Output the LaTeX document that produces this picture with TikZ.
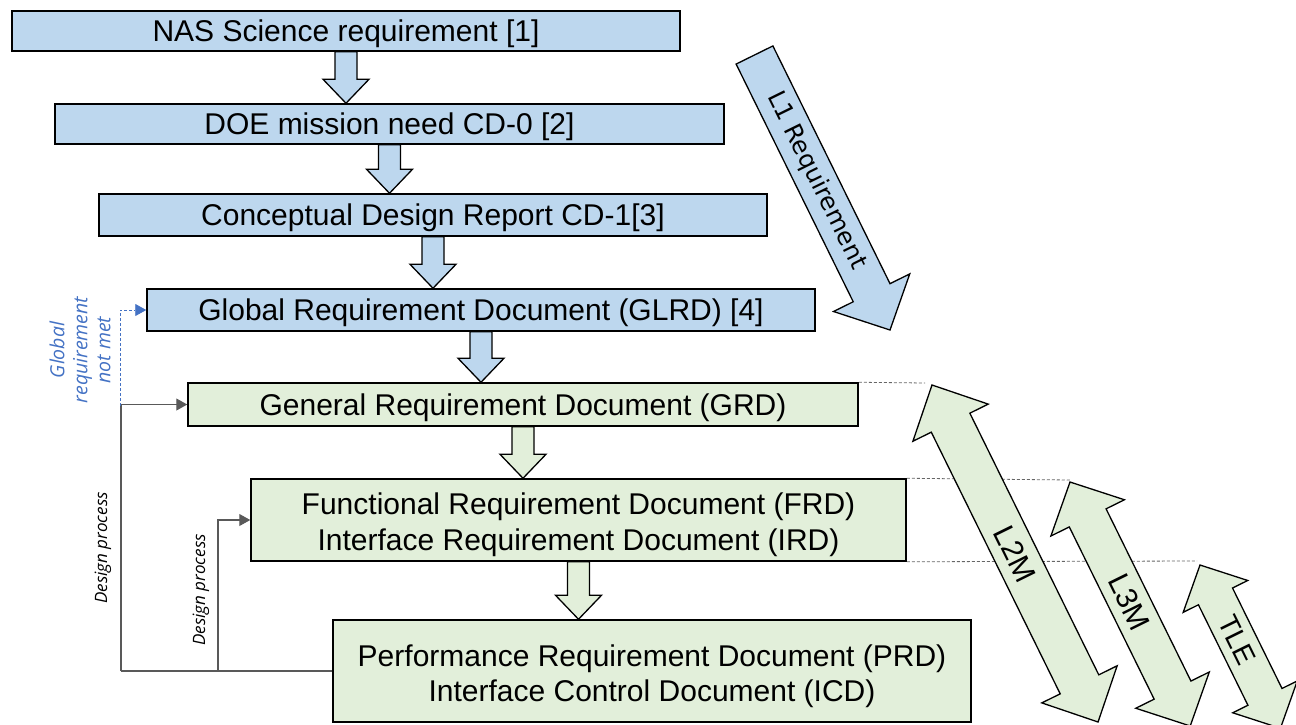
\documentclass[tikz,border=0pt]{standalone}
\usepackage{fontspec}
\setmainfont{Liberation Sans}
\newfontfamily\dvs{DejaVu Sans}
\newfontfamily\opens{Open Sans}
\usetikzlibrary{calc,arrows.meta}
\definecolor{bfill}{RGB}{189,215,238}
\definecolor{gfill}{RGB}{226,239,218}
\definecolor{lblue}{RGB}{68,114,196}
\tikzset{
  box/.style={draw=black, line width=1.5pt, inner sep=0pt, align=center,
    font=\fontsize{30}{36}\selectfont},
  onel/.style={text height=25pt, text depth=3.5pt},
  twol/.style={text height=62pt, text depth=0.5pt},
  bluebox/.style={box, fill=bfill},
  greenbox/.style={box, fill=gfill},
  blk/.style={draw=black, line width=1.3pt, line join=miter},
  bluearr/.style={blk, fill=bfill},
  greenarr/.style={blk, fill=gfill},
  feed/.style={draw=black!65, line width=1.1pt},
  feedtip/.style={-{Triangle[length=11pt,width=12pt]}},
  guide/.style={draw=black!60, line width=0.8pt, dash pattern=on 3pt off 2pt},
  note/.style={font=\opens\itshape\fontsize{17}{20}\selectfont, rotate=90},
  diag/.style={rotate=-63.77, inner sep=0pt},
}
% vertical block arrow from the bottom of #1 to the top of #2
\newcommand\vblock[3]{%
  \path[#3] ($(#1.south)+(-11,0)$) -- ($(#1.south|-#2.north)+(-11,-24)$)
    -- ($(#1.south|-#2.north)+(-23,-24)$) -- (#1.south|-#2.north)
    -- ($(#1.south|-#2.north)+(23,-24)$) -- ($(#1.south|-#2.north)+(11,-24)$)
    -- ($(#1.south)+(11,0)$) -- cycle;}
% double block arrow along the x axis of the current frame: length, shaft half, head half, head length
\newcommand\dblock[5]{%
  \path[#5] (0,0) -- (#4,-#3) -- (#4,-#2) -- ({#1-#4},-#2) -- ({#1-#4},-#3) -- (#1,0)
    -- ({#1-#4},#3) -- ({#1-#4},#2) -- (#4,#2) -- (#4,#3) -- cycle;}
\begin{document}
\begin{tikzpicture}[x=1pt,y=-1pt]
\useasboundingbox (0,0) rectangle (1296,724);

% boxes
\node[bluebox, onel, minimum width=668pt, minimum height=40pt] (nas) at (346,31) {NAS Science requirement [1]};
\node[bluebox, onel, minimum width=669pt, minimum height=40pt] (doe) at (389.5,124) {DOE mission need CD-0 [2]};
\node[bluebox, onel, minimum width=668pt, minimum height=42pt] (cdr) at (433,215) {Conceptual Design Report CD-1[3]};
\node[bluebox, onel, minimum width=668pt, minimum height=42pt] (glrd) at (481,310) {Global Requirement Document (GLRD) [4]};
\node[greenbox, onel, minimum width=670pt, minimum height=43pt] (grd) at (523,404.5) {General Requirement Document (GRD)};
\node[greenbox, twol, minimum width=655pt, minimum height=82pt] (frd) at (578.5,520) {Functional Requirement Document (FRD)\\Interface Requirement Document (IRD)};
\node[greenbox, twol, minimum width=638pt, minimum height=102pt, font=\fontsize{30}{35}\selectfont] (prd) at (652,671) {Performance Requirement Document (PRD)\\Interface Control Document (ICD)};

% block arrows between boxes
\vblock{nas}{doe}{bluearr}
\vblock{doe}{cdr}{bluearr}
\vblock{cdr}{glrd}{bluearr}
\vblock{glrd}{grd}{bluearr}
\vblock{grd}{frd}{greenarr}
\vblock{frd}{prd}{greenarr}

% feedback lines
\coordinate (j1) at (120,406);
\coordinate (c1) at (121,671);
\coordinate (c2) at (218,671);
\draw[feed] (prd.west) -- (c1);
\draw[feed, feedtip] (c1) |- (grd.west);
\draw[feed, feedtip] (c2) |- (frd.west);
\draw[draw=lblue, line width=0.9pt, dash pattern=on 3pt off 2pt, -{Triangle[length=11pt,width=12pt]}, color=lblue] (j1) |- (glrd.west);

\node[note] (dp1) at (103,548) {Design process};
\node[note] (dp2) at (201,590) {Design process};
\node[note, font=\opens\itshape\fontsize{19.5}{23}\selectfont, text=lblue, align=center] (grnm) at (80,350) {Global\\requirement\\not met};

% guide lines
\coordinate (g1) at (925,383);
\coordinate (g2) at (1070,480);
\coordinate (g3) at (1197,561);
\draw[guide] (grd.north east) -- (g1);
\draw[guide] (frd.north east) -- (g2);
\draw[guide] (frd.south east) -- (g3);

% L1 requirement arrow
\begin{scope}[shift={(754.5,55)}, rotate=-63.77]
  \path[bluearr] (0,-20.5) -- (265,-20.5) -- (265,-42.5) -- (306.6,0) -- (265,42.5) -- (265,20.5) -- (0,20.5) -- cycle;
  \node[diag, font=\dvs\fontsize{24.5}{28}\selectfont] (l1) at (140,0) {L1 Requirement};
\end{scope}

% L2M
\begin{scope}[shift={(932,385)}, rotate=-63.77]
  \dblock{375.7}{21.5}{42}{42}{greenarr}
  \node[diag, font=\fontsize{30}{34}\selectfont] (l2m) at (188,0) {L2M};
\end{scope}
% L3M
\begin{scope}[shift={(1070,482)}, rotate=-63.77]
  \dblock{272}{20.5}{41}{40}{greenarr}
  \node[diag, font=\fontsize{30}{34}\selectfont] (l3m) at (134,0) {L3M};
\end{scope}
% TLE
\begin{scope}[shift={(1200,565)}, rotate=-63.77]
  \dblock{182}{19}{36}{35}{greenarr}
  \node[diag, font=\fontsize{28}{32}\selectfont] (tle) at (84,0) {TLE};
\end{scope}
\end{tikzpicture}
\end{document}
